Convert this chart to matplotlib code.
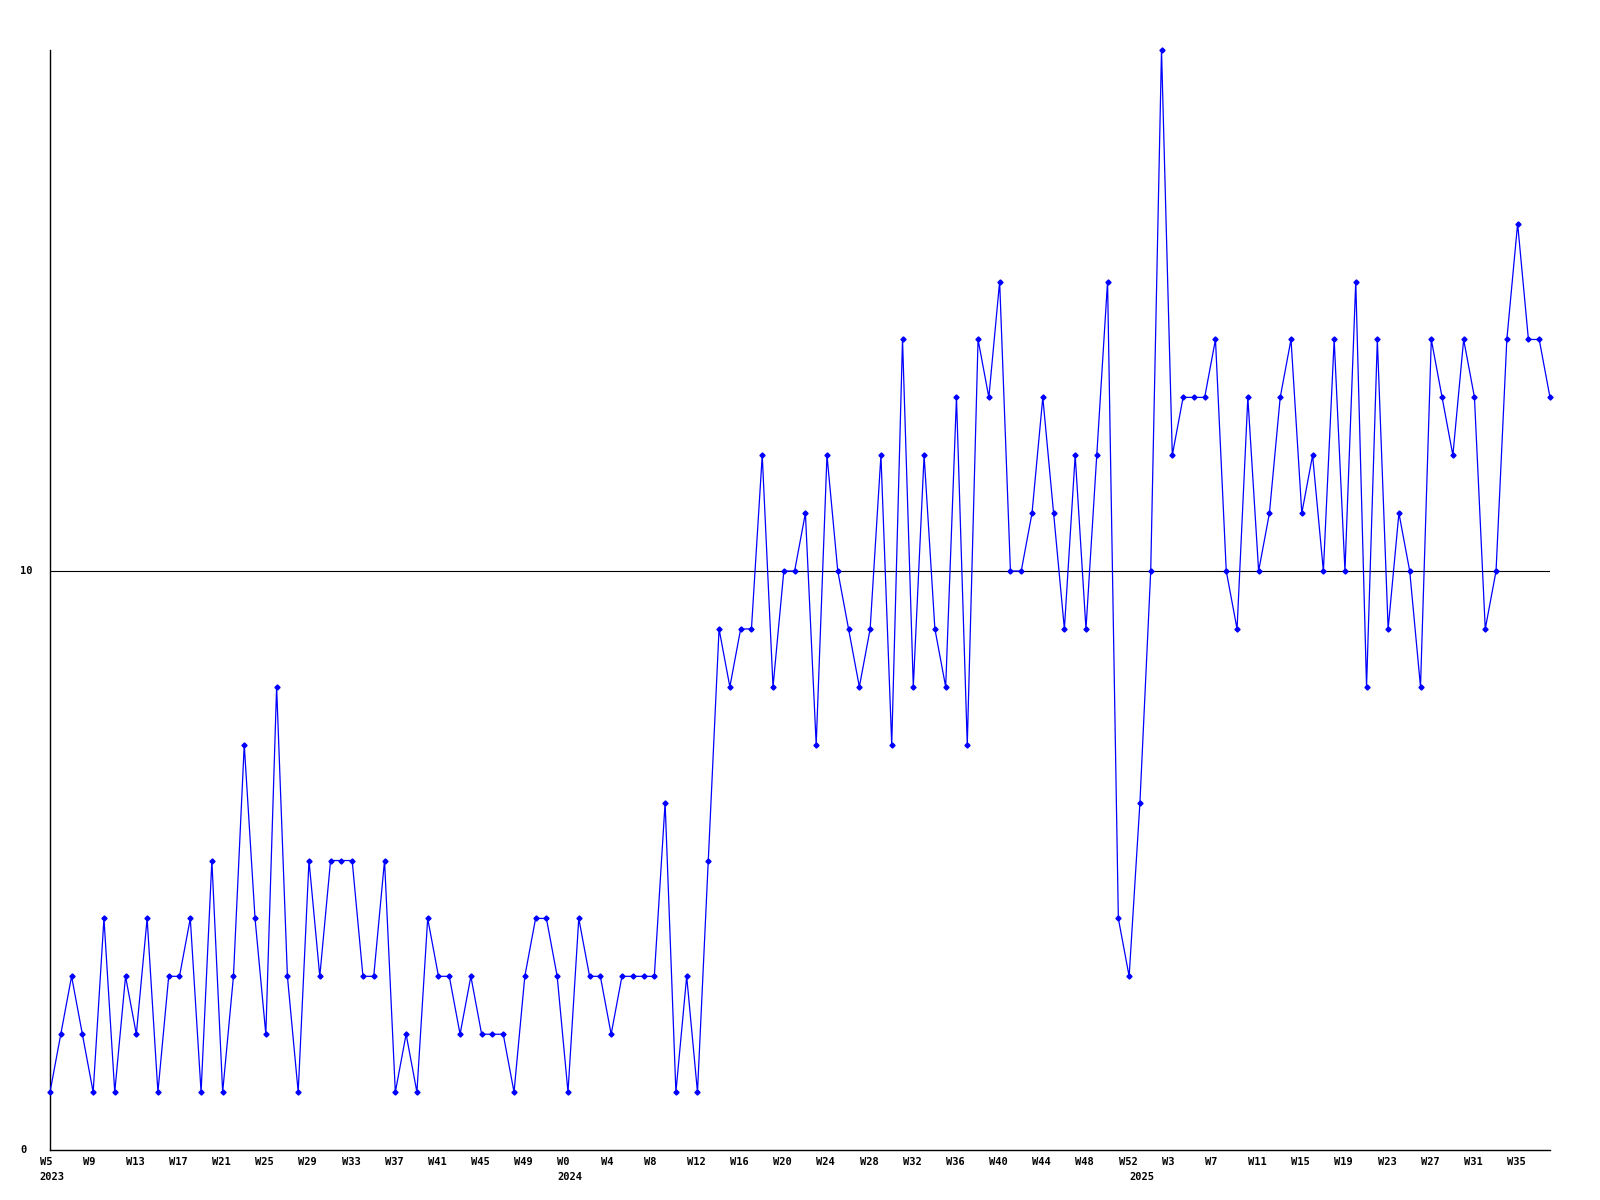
import matplotlib
matplotlib.use("Agg")
import matplotlib.pyplot as plt
import matplotlib.transforms as mtrans

# ---- data ----
values = [1, 2, 3, 2, 1, 4, 1, 3, 2, 4,
          1, 3, 3, 4, 1, 5, 1, 3, 7, 4,
          2, 8, 3, 1, 5, 3, 5, 5, 5, 3,
          3, 5, 1, 2, 1, 4, 3, 3, 2, 3,
          2, 2, 2, 1, 3, 4, 4, 3, 1, 4,
          3, 3, 2, 3, 3, 3, 3, 6, 1, 3,
          1, 5, 9, 8, 9, 9, 12, 8, 10, 10,
          11, 7, 12, 10, 9, 8, 9, 12, 7, 14,
          8, 12, 9, 8, 13, 7, 14, 13, 15, 10,
          10, 11, 13, 11, 9, 12, 9, 12, 15, 4,
          3, 6, 10, 19, 12, 13, 13, 13, 14, 10,
          9, 13, 10, 11, 13, 14, 11, 12, 10, 14,
          10, 15, 8, 14, 9, 11, 10, 8, 14, 13,
          12, 14, 13, 9, 10, 14, 16, 14, 14, 13]

tick_labels = ["W5", "W9", "W13", "W17", "W21", "W25", "W29", "W33", "W37",
               "W41", "W45", "W49",
               "W0", "W4", "W8", "W12", "W16", "W20", "W24", "W28", "W32",
               "W36", "W40", "W44", "W48", "W52",
               "W3", "W7", "W11", "W15", "W19", "W23", "W27", "W31", "W35"]
tick_step = 4
year_labels = ["2023", "2024", "2025"]
year_positions = [0, 48, 101]
y_ticks = [0, 10]
y_max = 19

# ---- figure ----
fig = plt.figure(figsize=(16, 12), dpi=100)
ax = fig.add_axes([50 / 1600, 50 / 1200, 1500 / 1600, 1100 / 1200])

x = list(range(len(values)))
ax.plot(x, values, color="#0000ff", linewidth=0.9, marker="D",
        markersize=2.6, markerfacecolor="#0000ff", markeredgecolor="#0000ff",
        clip_on=False, zorder=3)

ax.axhline(10, color="black", linewidth=0.8, zorder=2)

ax.set_xlim(0, len(values) - 1)
ax.set_ylim(0, y_max)

for s in ["top", "right"]:
    ax.spines[s].set_visible(False)
for s in ["left", "bottom"]:
    ax.spines[s].set_color("black")
    ax.spines[s].set_linewidth(1.0)

ax.set_xticks([])
ax.set_yticks([])

font = dict(family="DejaVu Sans Mono", fontweight="bold", fontsize=7.5,
            color="black")

# week labels
xt = ax.get_xaxis_transform() + mtrans.ScaledTranslation(-0.105, -0.12, fig.dpi_scale_trans)
for k, lab in enumerate(tick_labels):
    ax.text(k * tick_step, 0, lab, transform=xt, ha="left", va="center", **font)

# year labels
yt = ax.get_xaxis_transform() + mtrans.ScaledTranslation(-0.105, -0.27, fig.dpi_scale_trans)
for pos, lab in zip(year_positions, year_labels):
    ax.text(pos, 0, lab, transform=yt, ha="left", va="center", **font)

# y labels
ytr = ax.get_yaxis_transform() + mtrans.ScaledTranslation(-0.30, 0, fig.dpi_scale_trans)
for v in y_ticks:
    ax.text(0, v, str(v), transform=ytr, ha="left", va="center", **font)

fig.savefig("out.png", dpi=100, facecolor="white")
